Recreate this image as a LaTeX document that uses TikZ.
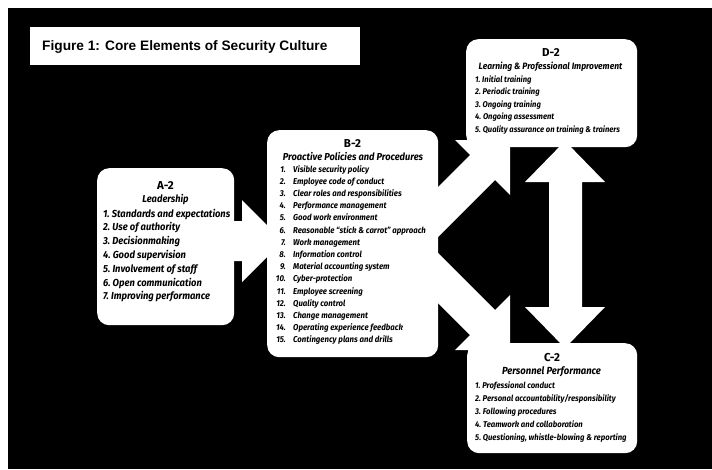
\documentclass[tikz,border=0pt]{standalone}
\usepackage{fontspec}
\newfontfamily\lf{Fira Sans}
\newfontfamily\lfc[FakeStretch=0.92]{Fira Sans}
\newfontfamily\tf{Liberation Sans}
\begin{document}
\begin{tikzpicture}[x=1pt,y=-1pt,
  box/.style={fill=white,rounded corners=12pt,anchor=north west,inner sep=0pt},
  blockarrow/.style={fill=white},
  hd/.style={font=\lf\bfseries\fontsize{11.5}{12}\selectfont,inner sep=0pt,anchor=base},
  sub/.style={font=\lfc\bfseries\itshape\fontsize{#1}{12}\selectfont,inner sep=0pt,anchor=base},
  item/.style={font=\lfc\bfseries\itshape\fontsize{#1}{12}\selectfont,inner sep=0pt,anchor=base west},
  num/.style={font=\lfc\bfseries\itshape\fontsize{#1}{12}\selectfont,inner sep=0pt,anchor=base east}]
\useasboundingbox (0,0) rectangle (712,469);
\fill[white] (0,0) rectangle (712,469);
\fill[black] (8,8) rectangle (712,469);
% title
\node[fill=white,anchor=north west,minimum width=330pt,minimum height=38pt,inner sep=0pt] (title) at (30,27) {};
\node[font=\tf\bfseries\fontsize{13.7}{16}\selectfont,anchor=base west,inner sep=0pt] (titletext) at (42,50) {Figure 1: Core Elements of Security Culture};
% block arrows
\fill[blockarrow] (225,221) -- (242,221) -- (242,200) -- (283,241) -- (242,282) -- (242,261) -- (225,261) -- cycle;
\fill[blockarrow] (430,195) -- (470,155) -- (455,140) -- (510,140) -- (510,195) -- (495,180) -- (430,245) -- cycle;
\fill[blockarrow] (430,245) -- (495,310) -- (510,295) -- (510,350) -- (455,350) -- (470,335) -- (430,295) -- cycle;
\fill[blockarrow] (565,141) -- (605,182) -- (582,182) -- (582,307) -- (605,307) -- (565,348) -- (525,307) -- (549,307) -- (549,182) -- (525,182) -- cycle;
% boxes
\node[box,minimum width=137pt,minimum height=157pt] (A) at (97,168) {};
\node[box,minimum width=171pt,minimum height=227pt] (B) at (267,130) {};
\node[box,minimum width=171pt,minimum height=108pt] (D) at (466,39) {};
\node[box,minimum width=170pt,minimum height=110pt] (C) at (467,343) {};
% A-2
\node[hd] (Ah) at (165.5,189) {A-2};
\node[sub=10.1] (As) at (165.5,202) {Leadership};
\foreach \t [count=\i] in {Standards and expectations,Use of authority,Decisionmaking,Good supervision,Involvement of staff,Open communication,Improving performance}
  \node[item=10.2] (a\i) at (103,{217+13.8*(\i-1)}) {\i.\ \t};
% B-2
\node[hd] (Bh) at (352.5,147) {B-2};
\node[sub=10.1] (Bs) at (353,160) {Proactive Policies and Procedures};
\foreach \t [count=\i] in {Visible security policy,Employee code of conduct,Clear roles and responsibilities,Performance management,Good work environment,Reasonable “stick \& carrot” approach,Work management,Information control,Material accounting system,Cyber-protection,Employee screening,Quality control,Change management,Operating experience feedback,Contingency plans and drills}
  {\node[num=8.5] (bn\i) at (286,{172+12.2*(\i-1)}) {\i.};
   \node[item=8.5] (b\i) at (293,{172+12.2*(\i-1)}) {\t};}
% D-2
\node[hd] (Dh) at (551,56) {D-2};
\node[sub=9.2] (Ds) at (550.5,69) {Learning \& Professional Improvement};
\foreach \t [count=\i] in {Initial training,Periodic training,Ongoing training,Ongoing assessment,Quality assurance on training \& trainers}
  \node[item=8.3] (d\i) at (475,{82+12.6*(\i-1)}) {\i.\ \t};
% C-2
\node[hd] (Ch) at (552,361) {C-2};
\node[sub=10.3] (Cs) at (551.5,374) {Personnel Performance};
\foreach \t [count=\i] in {Professional conduct,Personal accountability/responsibility,Following procedures,Teamwork and collaboration,{Questioning, whistle-blowing \& reporting}}
  \node[item=8.4] (c\i) at (475,{388+13*(\i-1)}) {\i.\ \t};
\end{tikzpicture}
\end{document}
